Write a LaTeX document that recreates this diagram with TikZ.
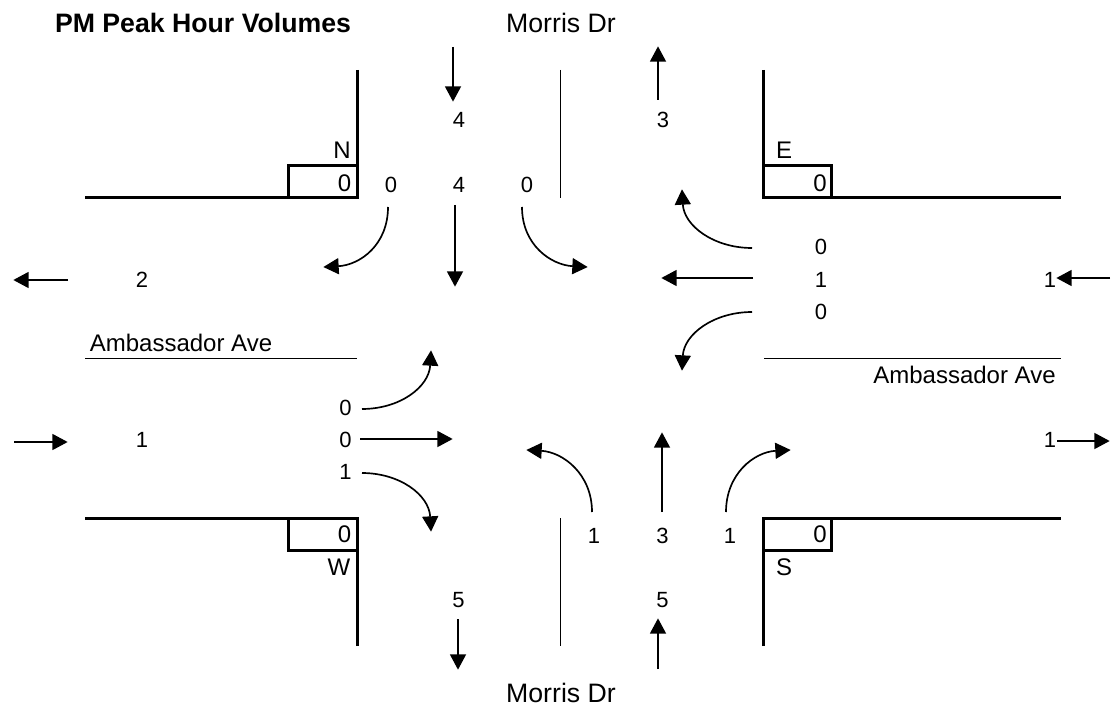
\documentclass[tikz,border=0pt]{standalone}
\usepackage{fontspec}
\setmainfont{Liberation Sans}
\usetikzlibrary{arrows.meta}
\tikzset{
  x=0.75pt,y=-0.75pt,
  lbl/.style={inner sep=0pt,font=\fontsize{18}{20}\selectfont},
  road/.style={inner sep=0pt,font=\fontsize{20}{22}\selectfont},
  num/.style={inner sep=0pt,font=\fontsize{16.5}{18}\selectfont},
  ttl/.style={inner sep=0pt,font=\bfseries\fontsize{20}{22}\selectfont},
  curb/.style={line width=2.25pt,miter limit=10},
  divider/.style={line width=0.75pt},
  flow/.style={line width=1.25pt,-{Triangle[length=11.5pt,width=12pt]},shorten >=-0.5pt},
}
\begin{document}
\begin{tikzpicture}
\useasboundingbox (0,0) rectangle (1116,709);
% curbs
\coordinate (nwA) at (357,70); \coordinate (nwB) at (357,198); \coordinate (nwC) at (85,198);
\coordinate (neA) at (763,70); \coordinate (neB) at (763,198); \coordinate (neC) at (1061,198);
\coordinate (swA) at (357,646); \coordinate (swB) at (357,518); \coordinate (swC) at (85,518);
\coordinate (seA) at (763,646); \coordinate (seB) at (763,518); \coordinate (seC) at (1061,518);
\draw[curb] (nwA) -- (nwB) -- (nwC);
\draw[curb] (neA) -- (neB) -- (neC);
\draw[curb] (swA) -- (swB) -- (swC);
\draw[curb] (seA) -- (seB) -- (seC);
\draw[curb] (288,198) -- (288,166) -- (357,166);
\draw[curb] (831,198) -- (831,166) -- (763,166);
\draw[curb] (288,518) -- (288,550) -- (357,550);
\draw[curb] (831,518) -- (831,550) -- (763,550);
% dividers
\coordinate (d1a) at (560,70); \coordinate (d1b) at (560,198);
\coordinate (d2a) at (560,518); \coordinate (d2b) at (560,646);
\coordinate (d3a) at (85,358); \coordinate (d3b) at (357,358);
\coordinate (d4a) at (764,358); \coordinate (d4b) at (1061,358);
\draw[divider] (d1a) -- (d1b);
\draw[divider] (d2a) -- (d2b);
\draw[divider] (d3a) -- (d3b);
\draw[divider] (d4a) -- (d4b);
% text
\node[ttl] (title) at (203,22.5) {PM Peak Hour Volumes};
\node[road] (mn) at (561,22.5) {Morris Dr};
\node[road] (ms) at (561,693) {Morris Dr};
\node[lbl] (aw) at (181,343) {Ambassador Ave};
\node[lbl] (ae) at (964.5,375) {Ambassador Ave};
\node[lbl] (N) at (342,150.5) {N};
\node[lbl] (E) at (784,150.5) {E};
\node[lbl] (W) at (339,567) {W};
\node[lbl] (S) at (784,567) {S};
\node[lbl] (bn) at (344.5,183) {0};
\node[lbl] (be) at (820,183) {0};
\node[lbl] (bw) at (344.5,534) {0};
\node[lbl] (bs) at (820,534) {0};
\node[num] (n1) at (459,119.5) {4};
\node[num] (n2) at (663,119.5) {3};
\node[num] (n3) at (391,185) {0};
\node[num] (n4) at (459,185) {4};
\node[num] (n5) at (527,185) {0};
\node[num] (e1) at (821,247) {0};
\node[num] (e2) at (821,280) {1};
\node[num] (e3) at (821,312) {0};
\node[num] (e4) at (1050,280) {1};
\node[num] (w0) at (142,280) {2};
\node[num] (w1) at (345.5,408) {0};
\node[num] (w2) at (345.5,440) {0};
\node[num] (w3) at (345.5,472) {1};
\node[num] (w4) at (142,440) {1};
\node[num] (e5) at (1050,440) {1};
\node[num] (s1) at (594,536) {1};
\node[num] (s2) at (662.5,536) {3};
\node[num] (s3) at (730,536) {1};
\node[num] (s4) at (458.5,600) {5};
\node[num] (s5) at (662.5,600) {5};
% arrow end points
\coordinate (a1s) at (453,47); \coordinate (a1e) at (453,101);
\coordinate (a2s) at (658,100); \coordinate (a2e) at (658,47);
\coordinate (a3s) at (455,205); \coordinate (a3e) at (455,286);
\coordinate (a4s) at (388,207); \coordinate (a4e) at (324,267);
\coordinate (a5s) at (522,207); \coordinate (a5e) at (587,267);
\coordinate (a6s) at (752,248); \coordinate (a6e) at (682,190);
\coordinate (a7s) at (753,278); \coordinate (a7e) at (662,278);
\coordinate (a8s) at (752,312); \coordinate (a8e) at (682,370);
\coordinate (a9s) at (68,280); \coordinate (a9e) at (14,280);
\coordinate (a10s) at (1110,278); \coordinate (a10e) at (1057,278);
\coordinate (a11s) at (14,442); \coordinate (a11e) at (67,442);
\coordinate (a12s) at (1057,441); \coordinate (a12e) at (1109,441);
\coordinate (a13s) at (362,409); \coordinate (a13e) at (431,351);
\coordinate (a14s) at (360,439); \coordinate (a14e) at (452,439);
\coordinate (a15s) at (362,473); \coordinate (a15e) at (431,531);
\coordinate (a16s) at (592,512); \coordinate (a16e) at (527,450);
\coordinate (a17s) at (662,512); \coordinate (a17e) at (662,433);
\coordinate (a18s) at (726,512); \coordinate (a18e) at (790,450);
\coordinate (a19s) at (458,619); \coordinate (a19e) at (458,669);
\coordinate (a20s) at (658,669); \coordinate (a20e) at (658,619);
\draw[flow] (a1s) -- (a1e);
\draw[flow] (a2s) -- (a2e);
\draw[flow] (a3s) -- (a3e);
\draw[flow] (a4s) .. controls +(0,38) and +(36,-2) .. (a4e);
\draw[flow] (a5s) .. controls +(0,38) and +(-36,-2) .. (a5e);
\draw[flow] (a6s) .. controls +(-38,0) and +(2,36) .. (a6e);
\draw[flow] (a7s) -- (a7e);
\draw[flow] (a8s) .. controls +(-38,0) and +(2,-36) .. (a8e);
\draw[flow] (a9s) -- (a9e);
\draw[flow] (a10s) -- (a10e);
\draw[flow] (a11s) -- (a11e);
\draw[flow] (a12s) -- (a12e);
\draw[flow] (a13s) .. controls +(38,0) and +(-2,36) .. (a13e);
\draw[flow] (a14s) -- (a14e);
\draw[flow] (a15s) .. controls +(38,0) and +(-2,-36) .. (a15e);
\draw[flow] (a16s) .. controls +(0,-38) and +(36,2) .. (a16e);
\draw[flow] (a17s) -- (a17e);
\draw[flow] (a18s) .. controls +(0,-38) and +(-36,2) .. (a18e);
\draw[flow] (a19s) -- (a19e);
\draw[flow] (a20s) -- (a20e);
\end{tikzpicture}
\end{document}
